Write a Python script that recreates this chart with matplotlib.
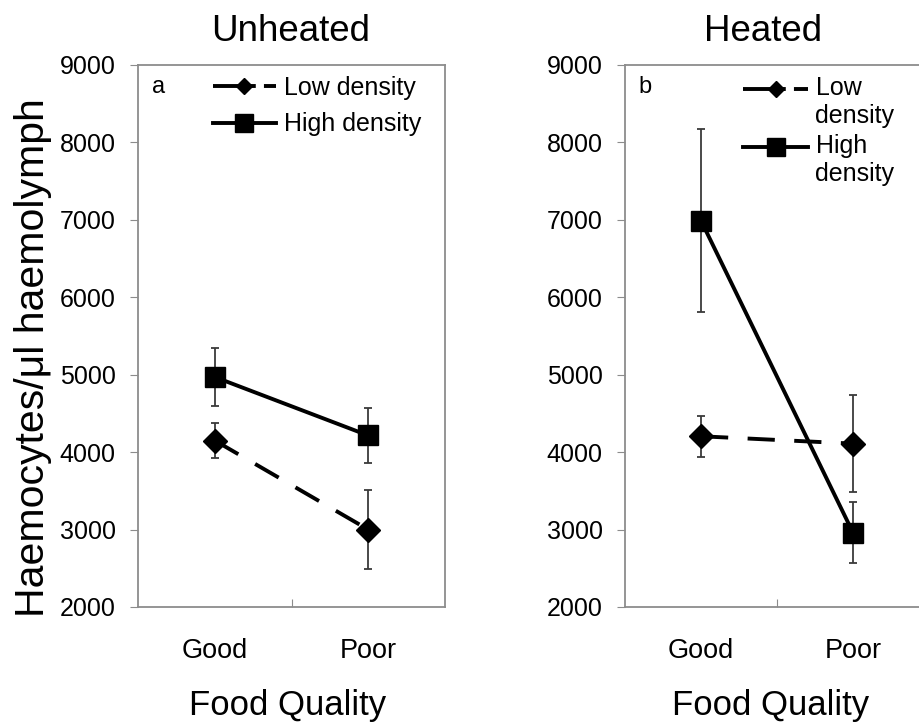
import matplotlib
matplotlib.use("Agg")
import matplotlib.pyplot as plt
from matplotlib.lines import Line2D
from matplotlib.legend_handler import HandlerLine2D

plt.rcParams['font.family'] = ['Liberation Sans', 'DejaVu Sans']

categories = ["Good", "Poor"]
panel_titles = ["Unheated", "Heated"]
panel_letters = ["a", "b"]

# Unheated
unheated_low = [4150, 3000]
unheated_low_err = [230, 505]
unheated_high = [4970, 4215]
unheated_high_err = [370, 350]
# Heated
heated_low = [4205, 4110]
heated_low_err = [265, 630]
heated_high = [6990, 2960]
heated_high_err = [1180, 390]

yticks = [2000, 3000, 4000, 5000, 6000, 7000, 8000, 9000]


class UpHandler(HandlerLine2D):
    def __init__(self, up=0.0, **kw):
        super().__init__(**kw)
        self.up = up

    def create_artists(self, legend, orig_handle, xdescent, ydescent, width,
                       height, fontsize, trans):
        return super().create_artists(legend, orig_handle, xdescent,
                                      ydescent - 2 * self.up * fontsize,
                                      width, height, fontsize, trans)


W, H = 919, 723
fig = plt.figure(figsize=(W / 100, H / 100), dpi=100)

axes_px = [(138, 445), (625, 929)]
top_px, bot_px = 65, 607
ah = bot_px - top_px

data = [
    (unheated_low, unheated_low_err, unheated_high, unheated_high_err),
    (heated_low, heated_low_err, heated_high, heated_high_err),
]
legend_labels = [("Low density", "High density"), ("Low\ndensity", "High\ndensity")]
title_x_px = [291, 763]
fq_x_px = [288, 771]
leg_x_px = [213, 743]

spine_col = "#8c8c8c"
x = [1, 2]
for i, (lx, rx) in enumerate(axes_px):
    aw = rx - lx
    ax = fig.add_axes([lx / W, 1 - bot_px / H, aw / W, ah / H])
    low, low_e, high, high_e = data[i]
    ax.errorbar(x, low, yerr=low_e, fmt='none', ecolor='#3a3a3a', elinewidth=1.3,
                capsize=3, capthick=1.3, zorder=2)
    ax.errorbar(x, high, yerr=high_e, fmt='none', ecolor='#3a3a3a', elinewidth=1.3,
                capsize=3, capthick=1.3, zorder=2)
    ax.plot(x, low, color='black', lw=2.8, dashes=(7, 5), marker='D', ms=12,
            zorder=3)
    ax.plot(x, high, color='black', lw=2.8, marker='s', ms=15, zorder=3)

    ax.set_xlim(0.5, 2.5)
    ax.set_ylim(2000, 9000)
    ax.set_yticks(yticks)
    ax.set_yticklabels([str(v) for v in yticks], fontsize=18)
    ax.set_xticks([1.5])
    ax.set_xticklabels([])
    ax.tick_params(axis='x', direction='in', length=6, color=spine_col)
    ax.tick_params(axis='y', direction='out', length=6, color=spine_col, pad=10)
    for s in ax.spines.values():
        s.set_color(spine_col)
        s.set_linewidth(1.3)
    for xi, c in zip(x, categories):
        ax.text(xi, (bot_px - 658) / ah, c, transform=ax.get_xaxis_transform(),
                ha='center', va='baseline', fontsize=19.5)
    ax.text((fq_x_px[i] - lx) / aw, (bot_px - 715) / ah, "Food Quality",
            transform=ax.transAxes, ha='center', va='baseline', fontsize=25)
    ax.text((title_x_px[i] - lx) / aw, (bot_px - 41) / ah, panel_titles[i],
            transform=ax.transAxes, ha='center', va='baseline', fontsize=26.5)
    ax.text((152 - 138) / 307, (bot_px - 87) / ah, panel_letters[i],
            transform=ax.transAxes, ha='left', va='center', fontsize=17)

    h_low = Line2D([], [], color='black', lw=2.8, dashes=(11, 2.1), marker='D', ms=8.5)
    h_high = Line2D([], [], color='black', lw=2.8, marker='s', ms=13)
    anchor = ((leg_x_px[i] - lx) / aw, (bot_px - 76) / ah)
    if i == 0:
        leg = ax.legend([h_low, h_high], legend_labels[i], loc='upper left',
                        bbox_to_anchor=anchor, frameon=False, fontsize=18,
                        handlelength=2.5, handletextpad=0.36, labelspacing=0.49,
                        borderpad=0, borderaxespad=0)
    else:
        up = UpHandler(up=0.55)
        leg = ax.legend([h_low, h_high], legend_labels[i], loc='upper left',
                        bbox_to_anchor=anchor, frameon=False, fontsize=18,
                        handlelength=2.6, handletextpad=0.3, labelspacing=0.24,
                        borderpad=0, borderaxespad=0,
                        handler_map={h_low: up, h_high: up})

fig.text(33 / W, 1 - 358 / H, "Haemocytes/μl haemolymph", rotation=90,
         ha='center', va='center', fontsize=29.5)

fig.savefig("out.png", dpi=100)
